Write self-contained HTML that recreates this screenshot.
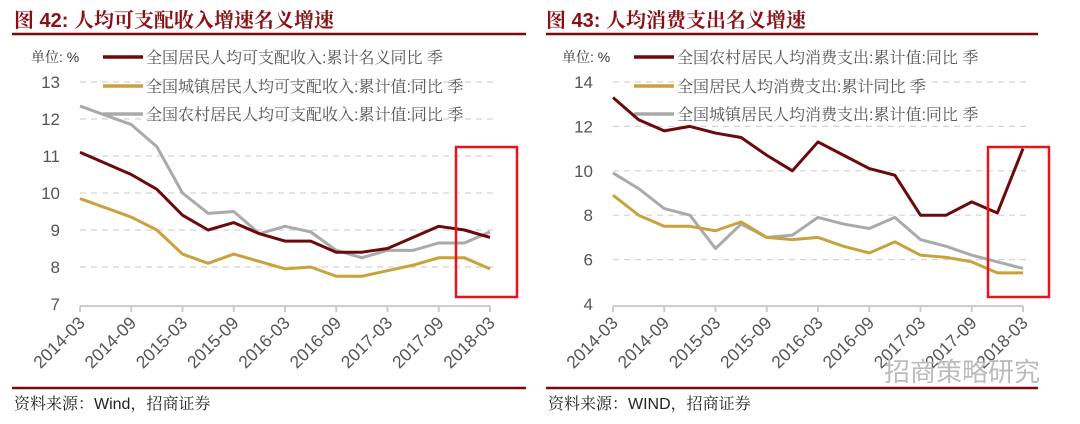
<!DOCTYPE html>
<html><head><meta charset="utf-8">
<style>
body{margin:0;background:#fff;width:1080px;height:419px;overflow:hidden;font-family:"Liberation Sans","Noto Sans CJK SC",sans-serif}
svg text{font-family:"Liberation Sans","Noto Sans CJK SC",sans-serif}
svg text.serif{font-family:"Liberation Sans","Noto Serif CJK SC",serif}
</style></head><body>
<svg width="1080" height="419">
<g id="left"></g>
<g id="right"></g>
<text x="884" y="381" font-size="26" fill="#bbb">招商策略研究</text>
</svg>
<script>
const cats=["2014-03","2014-06","2014-09","2014-12","2015-03","2015-06","2015-09","2015-12","2016-03","2016-06","2016-09","2016-12","2017-03","2017-06","2017-09","2017-12","2018-03"];
const tickLabels=["2014-03","2014-09","2015-03","2015-09","2016-03","2016-09","2017-03","2017-09","2018-03"];
const leftNames=["全国居民人均可支配收入:累计名义同比 季","全国城镇居民人均可支配收入:累计值:同比 季","全国农村居民人均可支配收入:累计值:同比 季"];
const leftA=[11.1,10.8,10.5,10.1,9.4,9.0,9.2,8.9,8.7,8.7,8.4,8.4,8.5,8.8,9.1,9.0,8.8];
const leftB=[9.85,9.6,9.35,9.0,8.35,8.1,8.35,8.15,7.95,8.0,7.75,7.75,7.9,8.05,8.25,8.25,7.95];
const leftC=[12.35,12.1,11.85,11.25,10.0,9.45,9.5,8.9,9.1,8.95,8.45,8.25,8.45,8.45,8.65,8.65,8.95];
const leftTicks=[7,8,9,10,11,12,13];
const rightNames=["全国农村居民人均消费支出:累计值:同比 季","全国居民人均消费支出:累计同比 季","全国城镇居民人均消费支出:累计值:同比 季"];
const rightA=[13.3,12.3,11.8,12.0,11.7,11.5,10.7,10.0,11.3,10.7,10.1,9.8,8.0,8.0,8.6,8.1,11.0];
const rightB=[8.9,8.0,7.5,7.5,7.3,7.7,7.0,6.9,7.0,6.6,6.3,6.8,6.2,6.1,5.9,5.4,5.4];
const rightC=[9.9,9.2,8.3,8.0,6.5,7.6,7.0,7.1,7.9,7.6,7.4,7.9,6.9,6.6,6.2,5.9,5.6];
const rightTicks=[4,6,8,10,12,14];
const NS="http://www.w3.org/2000/svg";
const colors=["#6b0a0a","#c9a23c","#aaaaaa"];
function mk(p,t,a){const e=document.createElementNS(NS,t);for(const k in a)e.setAttribute(k,a[k]);p.appendChild(e);return e;}
function draw(g,o){
  const x=i=>o.x0+i*(o.x1-o.x0)/(cats.length-1);
  const y=v=>o.yb-(v-o.vmin)*(o.yb-o.yt)/(o.vmax-o.vmin);
  let t=mk(g,"text",{x:o.tx,y:27,"font-size":20,"font-weight":"bold",fill:"#8b0f14",class:"serif"});t.textContent=o.title;
  
  
  let r=mk(g,"line",{x1:o.rx0,x2:o.rx1,y1:34,y2:34,stroke:"#7a0b0b","stroke-width":2.5});
  
  
  let r2=mk(g,"line",{x1:o.rx0,x2:o.rx1,y1:388,y2:388,stroke:"#7a0b0b","stroke-width":2.5});
  
  
  let s=mk(g,"text",{x:o.rx0+2,y:409,"font-size":16,fill:"#222",class:"serif"});s.textContent=o.source;
  
  
  o.ticks.forEach(v=>{
    if(v!==o.vmin){let gl=mk(g,"line",{x1:o.x0,x2:o.x1+6,y1:y(v),y2:y(v),stroke:"#d0d4dc","stroke-dasharray":"6,5","stroke-width":1.2});
    
    }
    let l=mk(g,"text",{x:o.x0-20,y:y(v)+6,"font-size":17,fill:"#555","text-anchor":"end"});l.textContent=v;
    
    
  });
  let ax=mk(g,"line",{x1:o.x0,x2:o.x1,y1:o.yb+2,y2:o.yb+2,stroke:"#ccc","stroke-width":2});
  
  
  tickLabels.forEach(lab=>{
    const i=cats.indexOf(lab);const xx=x(i);
    let tk=mk(g,"line",{x1:xx,x2:xx,y1:o.yb+2,y2:o.yb+8,stroke:"#ccc","stroke-width":2});
    
    
    let tl=mk(g,"text",{x:xx+6,y:o.yb+20,"font-size":17.5,fill:"#555","text-anchor":"end",transform:`rotate(-45 ${xx+6} ${o.yb+20})`});tl.textContent=lab;
    
    
  });
  let u=mk(g,"text",{x:o.lx-72,y:62,"font-size":14,fill:"#333",class:"serif"});u.textContent="单位: %";
  
  
  o.series.forEach((d,k)=>{
    const ly=[57,86,114][k];
    let ll=mk(g,"line",{x1:o.lx,x2:o.lx+40,y1:ly,y2:ly,stroke:colors[k],"stroke-width":3.5});
    
    
    let lt=mk(g,"text",{x:o.lx+43,y:ly+6,"font-size":16,fill:"#555",class:"serif"});lt.textContent=o.names[k];
    
    
  });
  o.order.forEach(k=>{
    const d=o.series[k];
    let p=mk(g,"polyline",{points:d.map((v,i)=>x(i)+","+y(v)).join(" "),fill:"none",stroke:colors[k],"stroke-width":3,"stroke-linejoin":"round"});
    
    
  });
  let b=mk(g,"rect",{x:o.box[0],y:147,width:o.box[1]-o.box[0],height:150,fill:"none",stroke:"#e8141b","stroke-width":2.5});
  
  
}
draw(document.getElementById("left"),{title:"图 42:  人均可支配收入增速名义增速",tx:14,rx0:12,rx1:526,source:"资料来源：Wind，招商证券",x0:80,x1:490,yt:82,yb:304,vmin:7,vmax:13,ticks:leftTicks,series:[leftA,leftB,leftC],names:leftNames,lx:103,order:[2,1,0],box:[456,517]});
draw(document.getElementById("right"),{title:"图 43:  人均消费支出名义增速",tx:546,rx0:546,rx1:1038,source:"资料来源：WIND，招商证券",x0:613,x1:1023,yt:82,yb:304,vmin:4,vmax:14,ticks:rightTicks,series:[rightA,rightB,rightC],names:rightNames,lx:634,order:[2,1,0],box:[988,1049]});
</script>
</body></html>
